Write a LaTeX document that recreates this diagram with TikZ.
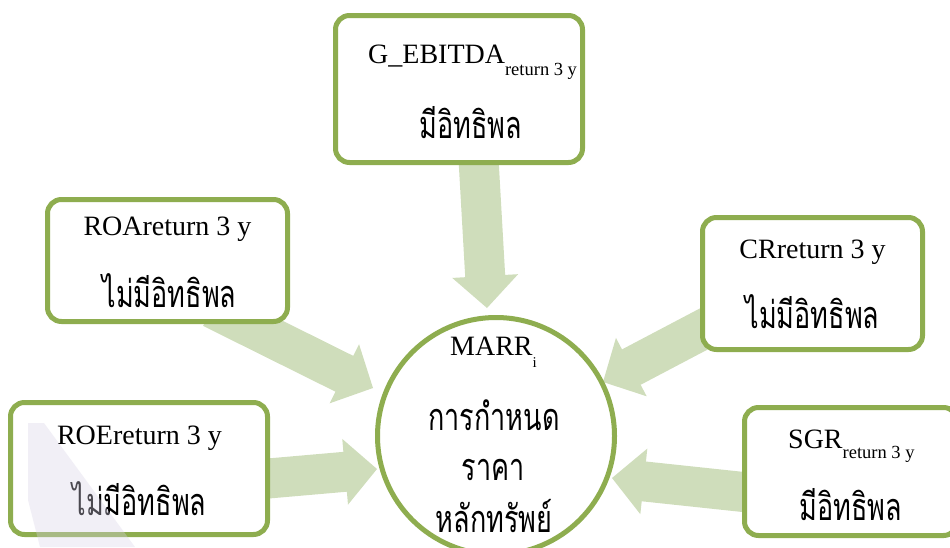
\documentclass[tikz,border=0pt]{standalone}
\usepackage{fontspec}
\setmainfont{Liberation Serif}
\newfontfamily\thaifont[Script=Thai]{Loma}
\usetikzlibrary{calc}

\definecolor{boxgreen}{HTML}{8EAD4F}
\definecolor{arrowgreen}{HTML}{CFDDBB}
\definecolor{markviolet}{HTML}{D9D3E8}

\tikzset{
  infobox/.style={draw=boxgreen, line width=5pt, rounded corners=14pt, fill=white, inner sep=0pt},
  hub/.style={circle, draw=boxgreen, line width=5pt, fill=white, inner sep=0pt, minimum size=237pt},
  lbl/.style={font=\fontsize{28}{30}\selectfont, inner sep=0pt, anchor=base},
  thai/.style={font=\thaifont\fontsize{27}{30}\selectfont, inner sep=0pt, anchor=base},
}

% Thai lines are set a little taller than the font draws them
\newcommand\tall[1]{\scalebox{1}[1.4]{#1}}

% broad block arrow from #1 (start) to #2 (tip)
\newcommand\fatarrow[2]{%
  \coordinate (fa-b) at ($(#2)!32pt!(#1)$);
  \fill[arrowgreen] ($(#1)!20pt!90:(#2)$) -- ($(fa-b)!20pt!-90:(#1)$)
    -- ($(fa-b)!33pt!-90:(#1)$) -- (#2) -- ($(fa-b)!33pt!90:(#1)$)
    -- ($(fa-b)!20pt!90:(#1)$) -- ($(#1)!20pt!-90:(#2)$) -- cycle;}

\newcommand\lowsub[2]{\raisebox{-#1}{\fontsize{18.5}{20}\selectfont #2}}

\begin{document}
\begin{tikzpicture}[x=1pt, y={(0pt,-1pt)}]
  \clip (0,0) rectangle (950,547);
  \useasboundingbox (0,0) rectangle (950,547);

  % arrow anchors
  \coordinate (s-top) at (478,150);  \coordinate (t-top) at (487,308);
  \coordinate (s-roa) at (212,308);  \coordinate (t-roa) at (373,388);
  \coordinate (s-cr)  at (736,312);  \coordinate (t-cr)  at (603,382);
  \coordinate (s-roe) at (228,482);  \coordinate (t-roe) at (377,469);
  \coordinate (s-sgr) at (781,496);  \coordinate (t-sgr) at (612,478);

  \fatarrow{s-top}{t-top}
  \fatarrow{s-roa}{t-roa}
  \fatarrow{s-cr}{t-cr}
  \fatarrow{s-roe}{t-roe}
  \fatarrow{s-sgr}{t-sgr}

  % boxes
  \node[infobox, minimum width=247pt, minimum height=147pt] (gebitda) at (459,89) {};
  \node[infobox, minimum width=240pt, minimum height=122pt] (roa) at (167.5,260.5) {};
  \node[infobox, minimum width=220pt, minimum height=132pt] (cr) at (812.5,283.5) {};
  \node[infobox, minimum width=257pt, minimum height=132pt] (roe) at (139,468.5) {};
  \node[infobox, minimum width=213pt, minimum height=128pt] (sgr) at (851,471.5) {};
  \node[hub] (marr) at (496,436) {};

  % labels
  \node[lbl, anchor=base west] (gebitda-t) at (368,63) {G\_EBITDA\lowsub{12pt}{return 3 y}};
  \node[thai] (gebitda-s) at (471,138) {\tall{มีอิทธิพล}};

  \node[lbl] (roa-t) at (167.5,235) {ROAreturn 3 y};
  \node[thai] (roa-s) at (169.5,307) {\tall{ไม่มีอิทธิพล}};

  \node[lbl] (cr-t) at (812.5,258) {CRreturn 3 y};
  \node[thai] (cr-s) at (812.5,328) {\tall{ไม่มีอิทธิพล}};

  \node[lbl] (roe-t) at (139.5,444) {ROEreturn 3 y};
  \node[thai] (roe-s) at (139.5,515) {\tall{ไม่มีอิทธิพล}};

  \node[lbl, anchor=base west] (sgr-t) at (788,448) {SGR\lowsub{10pt}{return 3 y}};
  \node[thai] (sgr-s) at (851,520) {\tall{มีอิทธิพล}};

  \node[lbl, anchor=base west] (marr-t) at (450,355) {MARR\lowsub{12pt}{\fontsize{15}{16}\selectfont i}};
  \node[thai] (marr-s1) at (494,430) {\tall{การกำหนด}};
  \node[thai] (marr-s2) at (493,480) {\tall{ราคา}};
  \node[thai] (marr-s3) at (494,532) {\tall{หลักทรัพย์}};

  % faint watermark band, lower left
  \fill[markviolet, opacity=0.35] (28,423) -- (44,423) -- (135,547) -- (40,547) -- (28,500) -- cycle;
\end{tikzpicture}
\end{document}
